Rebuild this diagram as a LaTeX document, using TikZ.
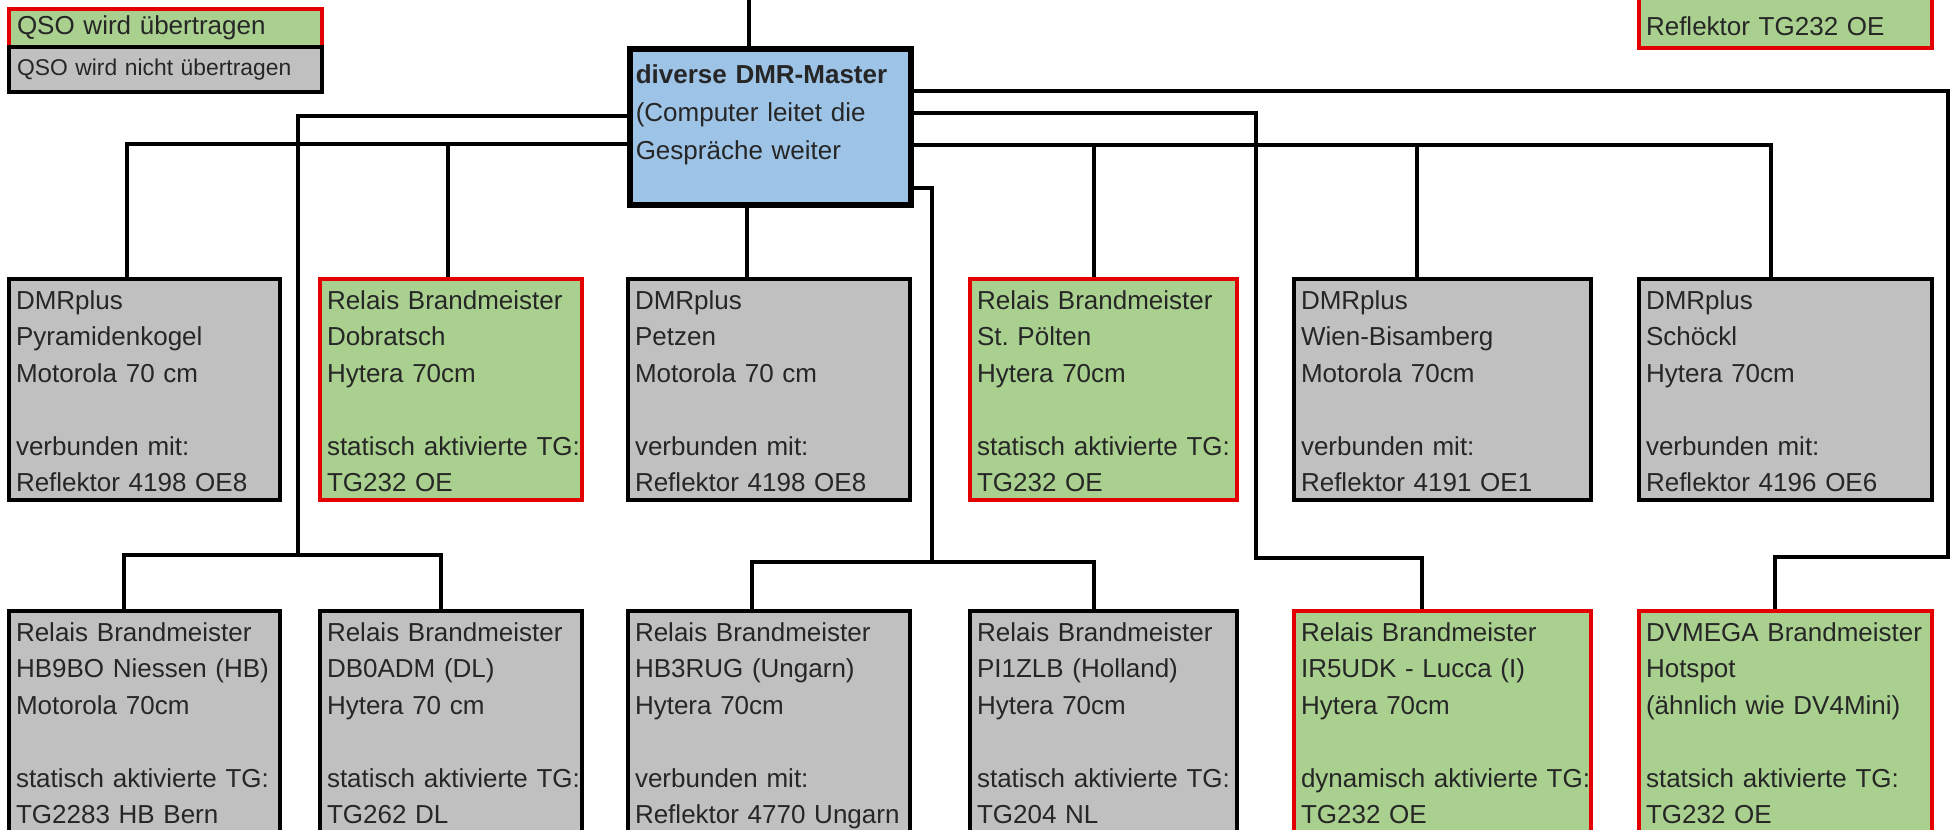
\documentclass[tikz,border=0pt]{standalone}
\usepackage{fontspec}
\setmainfont{Liberation Sans}
\definecolor{boxgrey}{RGB}{192,192,192}
\definecolor{boxgreen}{RGB}{169,208,142}
\definecolor{boxred}{RGB}{228,0,0}
\definecolor{masterblue}{RGB}{157,195,230}
\hyphenpenalty=10000
\exhyphenpenalty=10000

\begin{document}
\begin{tikzpicture}[x=0.2mm,y=-0.2mm,
  link/.style={line width=0.7mm},
  box/.style={draw, line width=0.8mm, anchor=north west, inner xsep=1.4mm, inner ysep=0pt,
    align=left, text=black!85, font=\fontsize{14.8}{20.8}\selectfont,
    text height=6mm, text depth=38.2mm},
  boxw/.style={text width=#1*0.2mm-2.8mm},
  grau/.style={box, fill=boxgrey},
  gruen/.style={box, fill=boxgreen, draw=boxred},
  legende/.style={draw, line width=0.8mm, anchor=north west, inner xsep=1.6mm,
    text width=59.4mm, align=left, text=black!85}]
\path[use as bounding box, fill=white] (0,0) rectangle (1950,829);

\node[legende, fill=boxgreen, draw=boxred, minimum height=7.6mm,
  font=\fontsize{14.8}{17}\selectfont] (legja) at (7,7) {QSO wird übertragen};
\node[legende, fill=boxgrey, minimum height=9mm,
  font=\fontsize{13}{15}\selectfont] (legnein) at (7,45) {QSO wird nicht übertragen};

\node[draw, line width=1.1mm, fill=masterblue, anchor=north west, inner xsep=1.2mm, inner ysep=0pt,
  text width=53.8mm, align=left, text=black!85, text height=7mm, text depth=24.2mm,
  font=\fontsize{14.8}{21.5}\selectfont] (master) at (627,46)
  {\textbf{diverse DMR-Master}\\(Computer leitet die\\Gespräche weiter};

\node[gruen, boxw=293, anchor=south west, text height=20mm, text depth=2.6mm] (reflektor) at (1637,50)
  {Reflektor TG232 OE};

\node[grau, boxw=271] (pyramiden) at (7,277)
  {DMRplus\\Pyramidenkogel\\Motorola 70 cm\\[\baselineskip]verbunden mit:\\Reflektor 4198 OE8};
\node[gruen, boxw=262] (dobratsch) at (318,277)
  {Relais Brandmeister\\Dobratsch\\Hytera 70cm\\[\baselineskip]statisch~aktivierte~TG:\\TG232 OE};
\node[grau, boxw=282] (petzen) at (626,277)
  {DMRplus\\Petzen\\Motorola 70 cm\\[\baselineskip]verbunden mit:\\Reflektor 4198 OE8};
\node[gruen, boxw=267] (stpoelten) at (968,277)
  {Relais Brandmeister\\St.\ Pölten\\Hytera 70cm\\[\baselineskip]statisch~aktivierte~TG:\\TG232 OE};
\node[grau, boxw=297] (wien) at (1292,277)
  {DMRplus\\Wien-Bisamberg\\Motorola 70cm\\[\baselineskip]verbunden mit:\\Reflektor 4191 OE1};
\node[grau, boxw=293] (schoeckl) at (1637,277)
  {DMRplus\\Schöckl\\Hytera 70cm\\[\baselineskip]verbunden mit:\\Reflektor 4196 OE6};

\node[grau, boxw=271] (hb9bo) at (7,609)
  {Relais Brandmeister\\HB9BO~Niessen~(HB)\\Motorola 70cm\\[\baselineskip]statisch~aktivierte~TG:\\TG2283 HB Bern};
\node[grau, boxw=262] (db0adm) at (318,609)
  {Relais Brandmeister\\DB0ADM (DL)\\Hytera 70 cm\\[\baselineskip]statisch~aktivierte~TG:\\TG262 DL};
\node[grau, boxw=282] (hb3rug) at (626,609)
  {Relais Brandmeister\\HB3RUG (Ungarn)\\Hytera 70cm\\[\baselineskip]verbunden mit:\\Reflektor~4770~Ungarn};
\node[grau, boxw=267] (pi1zlb) at (968,609)
  {Relais Brandmeister\\PI1ZLB (Holland)\\Hytera 70cm\\[\baselineskip]statisch~aktivierte~TG:\\TG204 NL};
\node[gruen, boxw=297] (ir5udk) at (1292,609)
  {Relais Brandmeister\\IR5UDK - Lucca (I)\\Hytera 70cm\\[\baselineskip]dynamisch~aktivierte~TG:\\TG232 OE};
\node[gruen, boxw=293] (dvmega) at (1637,609)
  {DVMEGA~Brandmeister\\Hotspot\\(ähnlich wie DV4Mini)\\[\baselineskip]statsich~aktivierte~TG:\\TG232 OE};

\coordinate (oben) at (749,0);
\coordinate (knotenA) at (298,555);
\coordinate (schieneB) at (0,144);
\coordinate (schieneC) at (0,145);
\coordinate (knotenD) at (1256,558);
\coordinate (knotenE) at (1948,557);
\coordinate (knotenS) at (932,562);

\draw[link] (oben) -- (oben |- master.north);
\draw[link] (master.west |- 0,116) -| (knotenA);
\draw[link] (hb9bo.north -| 124,0) |- (knotenA) -| (db0adm.north -| 441,0);
\draw[link] (pyramiden.north -| 127,0) |- (master.west |- schieneB);
\draw[link] (dobratsch.north -| 448,0) -- (448,0 |- schieneB);
\draw[link] (master.south -| 747,0) -- (petzen.north -| 747,0);
\draw[link] (master.east |- schieneC) -| (schoeckl.north -| 1771,0);
\draw[link] (stpoelten.north -| 1094,0) -- (1094,0 |- schieneC);
\draw[link] (wien.north -| 1417,0) -- (1417,0 |- schieneC);
\draw[link] (master.east |- 0,113) -| (knotenD) -| (ir5udk.north -| 1422,0);
\draw[link] (master.east |- 0,91) -| (knotenE) -| (dvmega.north -| 1775,0);
\draw[link] (master.east |- 0,188) -| (knotenS);
\draw[link] (hb3rug.north -| 752,0) |- (knotenS) -| (pi1zlb.north -| 1094,0);
\end{tikzpicture}
\end{document}
